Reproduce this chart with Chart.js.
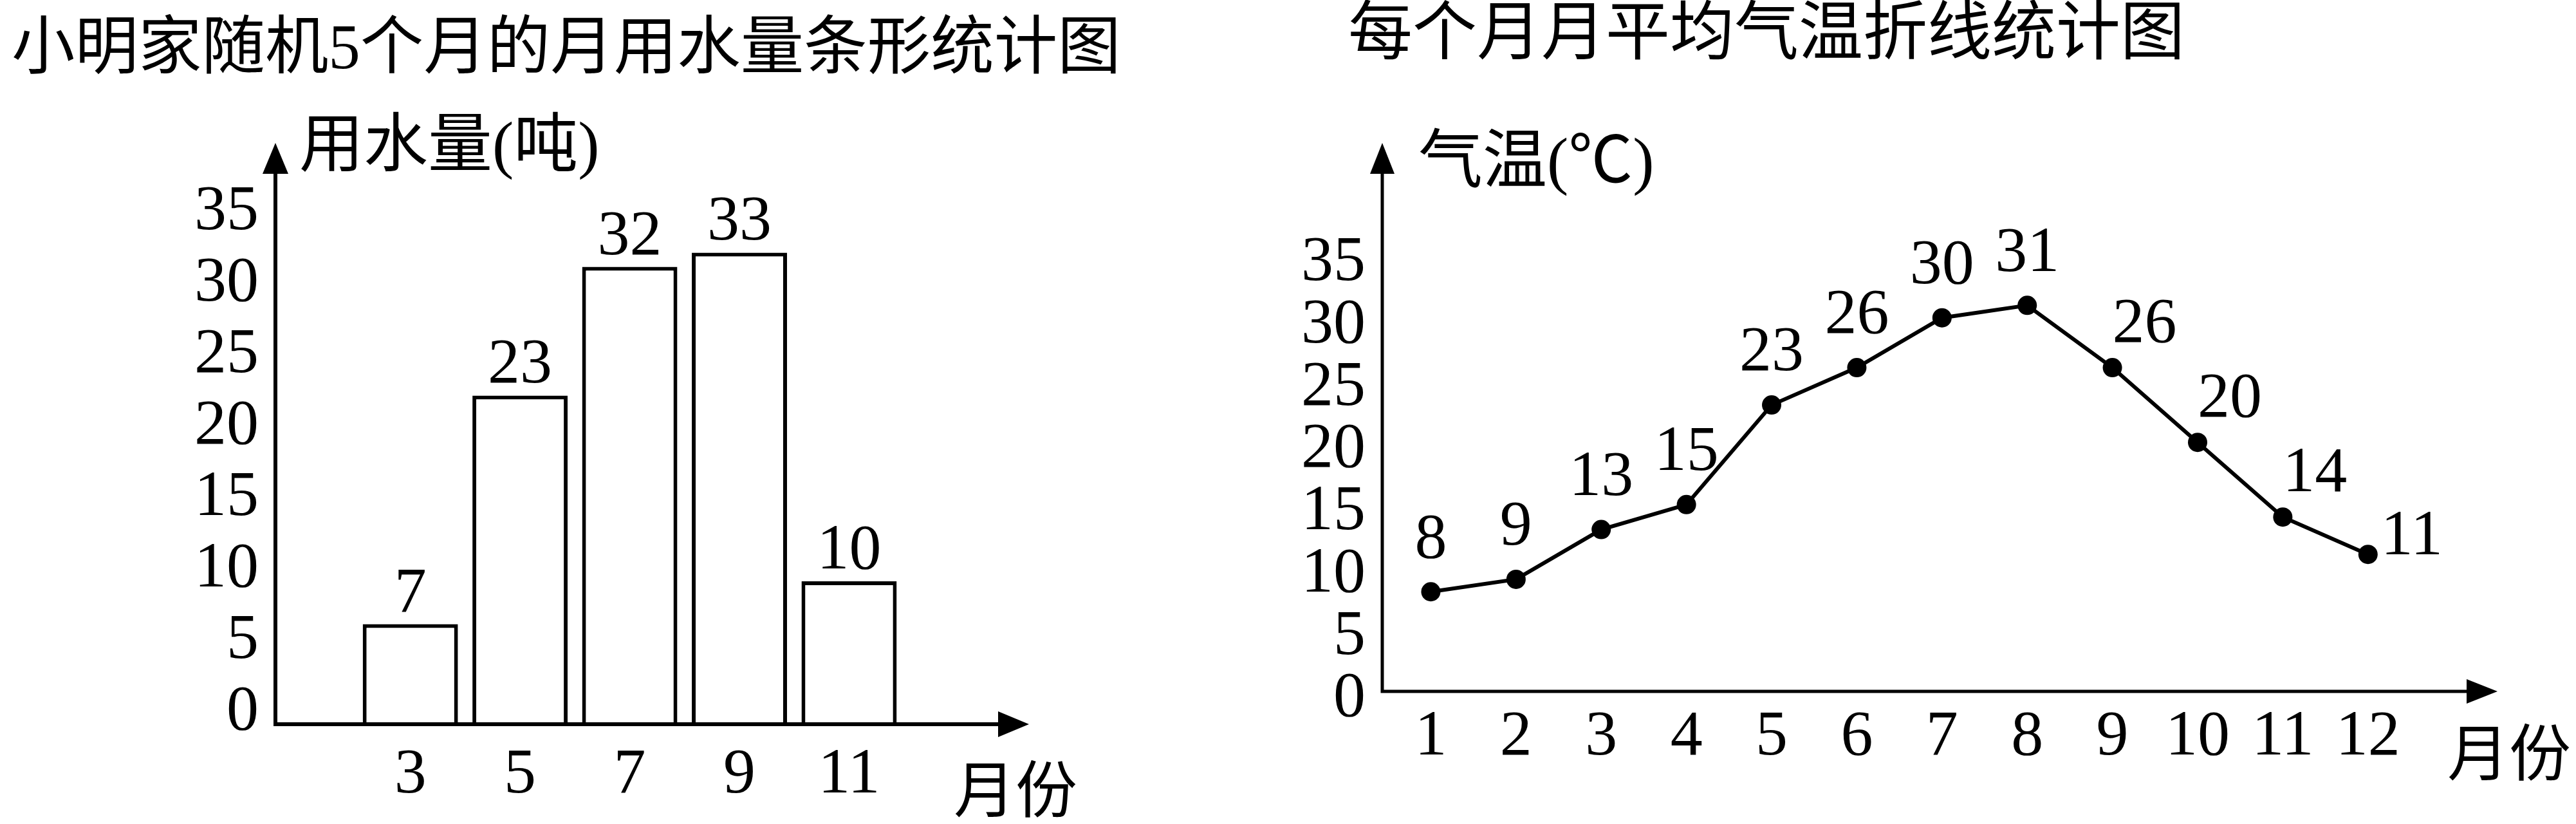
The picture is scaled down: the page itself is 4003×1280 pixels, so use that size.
<!DOCTYPE html>
<html>
<head>
<meta charset="utf-8">
<script src="https://cdn.jsdelivr.net/npm/chart.js@4/dist/chart.umd.min.js"></script>
<style>
  html, body { margin: 0; padding: 0; background: #ffffff; }
  body { width: 4003px; height: 1280px; position: relative; overflow: hidden; }
  canvas { position: absolute; top: 0; }
  #waterChart { left: 0; }
  #tempChart { left: 1950px; }
</style>
</head>
<body>
<canvas id="waterChart" width="1950" height="1280"></canvas>
<canvas id="tempChart" width="2053" height="1280"></canvas>
<script>
// ---------- data ----------
const waterTitle = '小明家随机5个月的月用水量条形统计图';
const waterMonths = [3, 5, 7, 9, 11];
const waterValues = [7, 23, 32, 33, 10];
const waterYTitle = '用水量(吨)';

const tempTitle = '每个月月平均气温折线统计图';
const tempMonths = [1, 2, 3, 4, 5, 6, 7, 8, 9, 10, 11, 12];
const tempValues = [8, 9, 13, 15, 23, 26, 30, 31, 26, 20, 14, 11];
const tempLabelSide = ['top', 'top', 'top', 'top', 'top', 'top', 'top', 'top', 'topRight', 'topRight', 'topRight', 'right'];
const tempYTitle = '气温(℃)';

const xTitle = '月份';

// ---------- styling ----------
const FONT = "'Liberation Serif', 'Noto Sans CJK SC', serif";
const CJK = "'Noto Sans CJK SC', 'Liberation Serif', sans-serif";

const axisPlugin = {
  id: 'axisArrows',
  afterDatasetsDraw(chart, args, o) {
    const ctx = chart.ctx;
    const a = chart.chartArea;
    const ox = a.left, oy = a.bottom;
    const yTip = a.top - o.yTipAbove;
    const xTip = a.right;
    ctx.save();
    ctx.strokeStyle = '#000';
    ctx.fillStyle = '#000';
    ctx.lineWidth = o.lineWidth;
    ctx.lineCap = 'butt';
    ctx.beginPath();
    ctx.moveTo(ox, oy + o.lineWidth / 2);
    ctx.lineTo(ox, yTip + o.headLen - 2);
    ctx.moveTo(ox - o.lineWidth / 2, oy);
    ctx.lineTo(xTip - o.headLen + 2, oy);
    ctx.stroke();
    // arrow heads
    ctx.beginPath();
    ctx.moveTo(ox, yTip);
    ctx.lineTo(ox - o.headHalf, yTip + o.headLen);
    ctx.lineTo(ox + o.headHalf, yTip + o.headLen);
    ctx.closePath();
    ctx.fill();
    ctx.beginPath();
    ctx.moveTo(xTip, oy);
    ctx.lineTo(xTip - o.headLen, oy - o.headHalf);
    ctx.lineTo(xTip - o.headLen, oy + o.headHalf);
    ctx.closePath();
    ctx.fill();
    // chart title
    ctx.textBaseline = 'middle';
    ctx.textAlign = 'left';
    ctx.font = o.titleSize + 'px ' + FONT;
    ctx.fillText(o.title, o.titleX, o.titleY);
    // axis titles
    ctx.font = o.yTitleSize + 'px ' + FONT;
    ctx.fillText(o.yTitle, ox + o.yTitleDx, a.top + o.yTitleDy);
    ctx.font = o.xTitleSize + 'px ' + CJK;
    ctx.fillText(o.xTitle, a.right + o.xTitleDx, oy + o.xTitleDy);
    ctx.restore();
  }
};

const valueLabelPlugin = {
  id: 'valueLabels',
  afterDatasetsDraw(chart, args, o) {
    const ctx = chart.ctx;
    const meta = chart.getDatasetMeta(0);
    const data = chart.data.datasets[0].data;
    ctx.save();
    ctx.fillStyle = '#000';
    ctx.font = o.size + 'px ' + FONT;
    meta.data.forEach((el, i) => {
      const v = data[i].y;
      const side = o.sides ? o.sides[i] : 'top';
      let dx = 0, dy = o.topGap, align = 'center', base = 'alphabetic';
      if (side === 'topRight') { dx = 50; dy = -66; base = 'middle'; }
      if (side === 'right') { dx = 20; dy = -26; align = 'left'; base = 'middle'; }
      if (side === 'top' && o.middle) { dy = -80; base = 'middle'; }
      ctx.textAlign = align;
      ctx.textBaseline = base;
      ctx.fillText(String(v), el.x + dx, el.y + dy);
    });
    ctx.restore();
  }
};

// ---------- left: bar chart ----------
new Chart(document.getElementById('waterChart'), {
  type: 'bar',
  data: {
    datasets: [{
      data: waterMonths.map((m, i) => ({ x: m, y: waterValues[i] })),
      backgroundColor: '#ffffff',
      borderColor: '#000000',
      borderWidth: 6,
      borderSkipped: 'start',
      categoryPercentage: 1,
      barPercentage: 0.868
    }]
  },
  options: {
    responsive: false,
    devicePixelRatio: 1,
    animation: false,
    layout: { padding: { left: 20, right: 351, top: 348, bottom: 0 } },
    plugins: {
      legend: { display: false },
      tooltip: { enabled: false },
      title: { display: false },
      axisArrows: {
        lineWidth: 6, headLen: 48, headHalf: 20, yTipAbove: 126,
        title: waterTitle, titleSize: 98.5, titleX: 18, titleY: 80,
        yTitle: waterYTitle, yTitleSize: 100, yTitleDx: 37, yTitleDy: -116,
        xTitle: xTitle, xTitleSize: 96, xTitleDx: -117, xTitleDy: 100
      },
      valueLabels: { size: 100, topGap: -20 }
    },
    scales: {
      x: {
        type: 'linear', min: 0.54, max: 14.28, offset: false,
        grid: { display: false, offset: false },
        border: { display: false },
        afterBuildTicks: (s) => { s.ticks = waterMonths.map(v => ({ value: v })); },
        afterFit: (s) => { s.height = 155; },
        ticks: { color: '#000', padding: 12, maxRotation: 0, autoSkip: false, font: { size: 100, family: FONT } }
      },
      y: {
        min: 0, max: 35,
        grid: { display: false },
        border: { display: false },
        afterFit: (s) => { s.width = 408; },
        ticks: { stepSize: 5, autoSkip: false, color: '#000', padding: 18, labelOffset: -18, font: { size: 100, family: FONT } }
      }
    }
  },
  plugins: [axisPlugin, valueLabelPlugin]
});

// ---------- right: line chart ----------
new Chart(document.getElementById('tempChart'), {
  type: 'line',
  data: {
    datasets: [{
      data: tempMonths.map((m, i) => ({ x: m, y: tempValues[i] })),
      borderColor: '#000000',
      borderWidth: 6,
      tension: 0,
      fill: false,
      pointRadius: 15,
      pointBackgroundColor: '#000000',
      pointBorderColor: '#000000',
      pointBorderWidth: 0
    }]
  },
  options: {
    responsive: false,
    devicePixelRatio: 1,
    animation: false,
    layout: { padding: { left: 0, right: 122, top: 397, bottom: 0 } },
    plugins: {
      legend: { display: false },
      tooltip: { enabled: false },
      title: { display: false },
      axisArrows: {
        lineWidth: 5, headLen: 48, headHalf: 19, yTipAbove: 175,
        title: tempTitle, titleSize: 100, titleX: 145, titleY: 58,
        yTitle: tempYTitle, yTitleSize: 100, yTitleDx: 56, yTitleDy: -140,
        xTitle: xTitle, xTitleSize: 96, xTitleDx: -78, xTitleDy: 94
      },
      valueLabels: { size: 100, topGap: -80, middle: true, sides: tempLabelSide }
    },
    scales: {
      x: {
        type: 'linear', min: 0.43, max: 13.52, offset: false,
        grid: { display: false },
        border: { display: false },
        afterBuildTicks: (s) => { s.ticks = tempMonths.map(v => ({ value: v })); },
        afterFit: (s) => { s.height = 206; },
        ticks: { color: '#000', padding: 4, maxRotation: 0, autoSkip: false, font: { size: 100, family: FONT } }
      },
      y: {
        min: 0, max: 35,
        grid: { display: false },
        border: { display: false },
        afterFit: (s) => { s.width = 198; },
        ticks: { stepSize: 5, autoSkip: false, color: '#000', padding: 18, labelOffset: 12, font: { size: 100, family: FONT } }
      }
    }
  },
  plugins: [axisPlugin, valueLabelPlugin]
});
</script>
</body>
</html>
